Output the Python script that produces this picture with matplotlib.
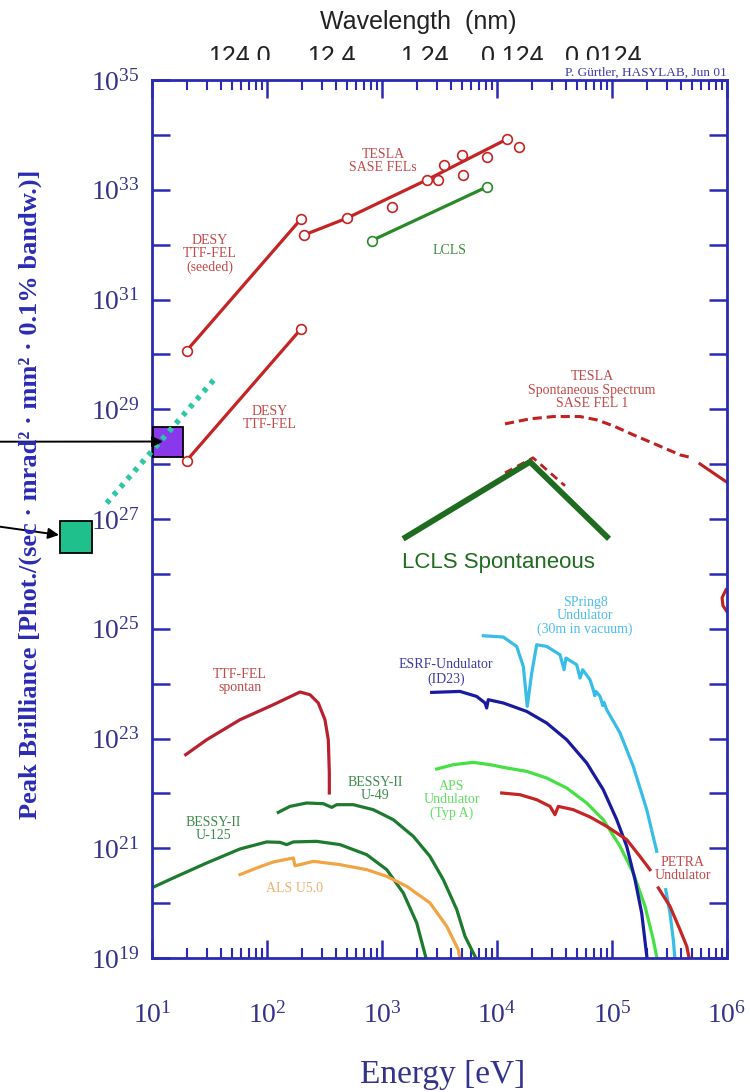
import numpy as np
import matplotlib
matplotlib.use('Agg')
import matplotlib.pyplot as plt
from matplotlib.ticker import FixedLocator, LogLocator, NullLocator, NullFormatter, FixedFormatter
from matplotlib.transforms import Bbox, TransformedBbox

plt.rcParams['font.family'] = ['Liberation Serif', 'DejaVu Serif']
plt.rcParams['mathtext.fontset'] = 'custom'
plt.rcParams['mathtext.rm'] = 'Liberation Serif'

# ---------------- data (log10 of energy [eV] and peak brilliance) ----------------
desy_seeded_logE = [1.302, 2.296]
desy_seeded_logB = [30.069, 32.468]
desy_logE = [1.302, 2.296]
desy_logB = [28.066, 30.464]
tesla_line_logE = [2.324, 2.693, 3.389, 4.084]
tesla_line_logB = [32.177, 32.481, 33.179, 33.920]
tesla_pts_logE = [2.324, 2.693, 3.090, 3.389, 3.490, 3.542, 3.693, 3.707, 3.916, 4.084, 4.191]
tesla_pts_logB = [32.177, 32.481, 32.692, 33.179, 33.179, 33.452, 33.634, 33.270, 33.603, 33.920, 33.774]
lcls_logE = [2.910, 3.916]
lcls_logB = [32.073, 33.056]

tesla_spont_logE = [4.070, 4.287, 4.490, 4.722, 4.867, 5.011, 5.185, 5.389, 5.591, 5.707]
tesla_spont_logB = [28.734, 28.825, 28.867, 28.867, 28.807, 28.698, 28.534, 28.352, 28.169, 28.109]
tesla_spont_tail_logE = [5.765, 5.968, 6.05]
tesla_spont_tail_logB = [28.005, 27.714, 27.60]
spont2_logE = [4.070, 4.313, 4.591]
spont2_logB = [27.842, 28.115, 27.605]
edge_arc_logE = [5.991, 5.957, 5.965, 6.0]
edge_arc_logB = [25.71, 25.565, 25.419, 25.31]

lcls_spont_logE = [3.183, 4.287, 4.974]
lcls_spont_logB = [26.639, 28.042, 26.639]

ttf_spont_logE = [1.293, 1.476, 1.765, 2.055, 2.287, 2.374, 2.446, 2.504, 2.533, 2.542, 2.542]
ttf_spont_logB = [22.705, 22.978, 23.342, 23.616, 23.847, 23.798, 23.647, 23.342, 22.978, 22.377, 22.007]

u125_logE = [0.997, 1.185, 1.476, 1.765, 1.997, 2.113, 2.171, 2.229, 2.432, 2.635, 2.867, 3.041, 3.185, 3.302, 3.395]
u125_logB = [20.277, 20.459, 20.732, 20.987, 21.115, 21.108, 21.066, 21.115, 21.126, 21.066, 20.883, 20.610, 20.186, 19.639, 18.9]

u49_logE = [2.098, 2.200, 2.345, 2.490, 2.563, 2.606, 2.750, 2.924, 3.098, 3.272, 3.417, 3.533, 3.650, 3.722, 3.840]
u49_logB = [21.654, 21.763, 21.825, 21.812, 21.745, 21.794, 21.794, 21.703, 21.521, 21.217, 20.852, 20.428, 19.882, 19.395, 18.9]

als_logE = [1.765, 1.910, 2.055, 2.229, 2.243, 2.287, 2.403, 2.635, 2.867, 3.041, 3.215, 3.417, 3.563, 3.663, 3.685]
als_logB = [20.519, 20.641, 20.750, 20.823, 20.683, 20.701, 20.762, 20.701, 20.610, 20.488, 20.306, 20.004, 19.577, 19.153, 18.9]

esrf_logE = [3.432, 3.678, 3.823, 3.896, 3.910, 3.924, 4.055, 4.258, 4.432, 4.606, 4.780, 4.924, 5.041, 5.128, 5.200, 5.258, 5.310]
esrf_logB = [23.840, 23.858, 23.767, 23.647, 23.556, 23.707, 23.647, 23.494, 23.282, 22.978, 22.554, 22.067, 21.521, 21.035, 20.428, 19.821, 18.9]

spring8_logE = [3.881, 4.055, 4.171, 4.229, 4.263, 4.302, 4.345, 4.432, 4.548, 4.583, 4.600, 4.693, 4.722,
                4.745, 4.809, 4.837, 4.850, 4.860, 4.896, 4.920, 4.930, 4.954, 5.070, 5.185, 5.302, 5.389]
spring8_logB = [24.872, 24.849, 24.678, 24.313, 23.585, 24.193, 24.709, 24.678, 24.526, 24.253, 24.466, 24.344, 24.102,
                24.253, 24.071, 23.889, 23.780, 23.860, 23.767, 23.600, 23.660, 23.525, 23.100, 22.492, 21.703, 20.944]
spring8_low_logE = [5.467, 5.504, 5.533, 5.550]
spring8_low_logB = [20.246, 19.821, 19.335, 18.9]

aps_logE = [3.476, 3.620, 3.794, 3.939, 4.084, 4.258, 4.432, 4.606, 4.780, 4.924, 5.070, 5.185, 5.287, 5.359, 5.400]
aps_logB = [22.444, 22.523, 22.565, 22.523, 22.463, 22.401, 22.280, 22.098, 21.825, 21.521, 21.035, 20.550, 19.942, 19.335, 18.9]

petra_logE = [4.041, 4.200, 4.345, 4.461, 4.504, 4.533, 4.663, 4.809, 4.954, 5.128, 5.243, 5.330]
petra_logB = [22.007, 21.976, 21.885, 21.763, 21.612, 21.763, 21.703, 21.570, 21.399, 21.157, 20.852, 20.610]
petra_low_logE = [5.403, 5.504, 5.591, 5.650, 5.680]
petra_low_logB = [20.277, 19.942, 19.517, 19.213, 18.9]

# annotation squares and dotted trend (log10 values)
purple_sq_logE, purple_sq_logB = 1.142, 28.412
green_sq_logE, green_sq_logB = 0.335, 26.667
teal_logE = [0.606, 1.563]
teal_logB = [27.290, 29.596]

x_tick_exps = [1, 2, 3, 4, 5, 6]
y_tick_exps = list(range(19, 36))
wavelength_labels = ['124.0', '12.4', '1.24', '0.124', '0.0124']

# ---------------- figure ----------------
W, H = 750, 1092
fig = plt.figure(figsize=(W / 100, H / 100), dpi=100)
ax = fig.add_axes([152 / W, 1 - 958 / H, 575 / W, 878 / H])
ax.set_xscale('log')
ax.set_yscale('log')
ax.set_xlim(1e1, 1e6)
ax.set_ylim(1e19, 1e35)


def px(x, y):
    return x / W, 1 - y / H


def d(le, lb):
    return 10 ** np.asarray(le, dtype=float), 10 ** np.asarray(lb, dtype=float)


SPINE = '#2a2ab4'
LBL = '#33338c'
FEL_RED = '#c42424'
LW = 2.3

# FEL lines
mk = dict(marker='o', mfc='white', ms=7, mew=1.2)
ax.plot(*d(desy_seeded_logE, desy_seeded_logB), color=FEL_RED, lw=LW, mec=FEL_RED, **mk)
ax.plot(*d(desy_logE, desy_logB), color=FEL_RED, lw=LW, mec=FEL_RED, **mk)
ax.plot(*d(tesla_line_logE, tesla_line_logB), color=FEL_RED, lw=LW)
ax.plot(*d(tesla_pts_logE, tesla_pts_logB), ls='none', mec=FEL_RED, **mk)
ax.plot(*d(lcls_logE, lcls_logB), color='#2a8a2a', lw=LW, mec='#2a8a2a', **mk)

# spontaneous spectra
ax.plot(*d(spont2_logE, spont2_logB), color='#c02020', lw=2.0, ls=(0, (3, 2)))
ax.plot(*d(tesla_spont_logE, tesla_spont_logB), color='#c02020', lw=2.2, ls=(0, (3, 1.6)))
ax.plot(*d(tesla_spont_tail_logE, tesla_spont_tail_logB), color='#c02020', lw=2.2)
ax.plot(*d(edge_arc_logE, edge_arc_logB), color='#c02020', lw=2.2)
ax.plot(*d(lcls_spont_logE, lcls_spont_logB), color='#1f6b1f', lw=4.2, solid_capstyle='butt')

# undulator / storage ring curves
ax.plot(*d(ttf_spont_logE, ttf_spont_logB), color='#b82030', lw=LW)
ax.plot(*d(u125_logE, u125_logB), color='#1e7a2e', lw=LW)
ax.plot(*d(u49_logE, u49_logB), color='#1e7a2e', lw=LW)
ax.plot(*d(als_logE, als_logB), color='#f2a444', lw=LW)
ax.plot(*d(spring8_logE, spring8_logB), color='#38bde8', lw=LW)
ax.plot(*d(spring8_low_logE, spring8_low_logB), color='#38bde8', lw=LW)
ax.plot(*d(aps_logE, aps_logB), color='#44e044', lw=LW)
ax.plot(*d(esrf_logE, esrf_logB), color='#1a1aa0', lw=LW)
ax.plot(*d(petra_logE, petra_logB), color='#c42626', lw=LW)
ax.plot(*d(petra_low_logE, petra_low_logB), color='#c42626', lw=LW)

# squares, dotted trend, arrows
ax.plot(10 ** purple_sq_logE, 10 ** purple_sq_logB, marker='s', ms=21.5, mfc='#8a38ec', mec='black',
        mew=1.3, clip_on=False, zorder=5)
ax.plot(10 ** green_sq_logE, 10 ** green_sq_logB, marker='s', ms=22.5, mfc='#1fc08c', mec='black',
        mew=1.3, clip_on=False, zorder=5)
ax.plot(*d(teal_logE, teal_logB), color='#2cc6a8', lw=4, ls=(0, (0.8, 1.1)), clip_on=False, zorder=6)
ax.annotate('', xy=(10 ** purple_sq_logE, 10 ** purple_sq_logB), xycoords='data',
            xytext=(0, H - 441.7), textcoords='figure pixels', annotation_clip=False,
            arrowprops=dict(arrowstyle='-|>', color='black', lw=1.4, mutation_scale=16,
                            shrinkA=0, shrinkB=3.8), zorder=7)
ax.annotate('', xy=(10 ** green_sq_logE, 10 ** green_sq_logB), xycoords='data',
            xytext=(0, H - 526.7), textcoords='figure pixels', annotation_clip=False,
            arrowprops=dict(arrowstyle='-|>', color='black', lw=1.4, mutation_scale=16,
                            shrinkA=0, shrinkB=12), zorder=7)

# ---------------- axes styling ----------------
for s in ax.spines.values():
    s.set_color(SPINE)
    s.set_linewidth(2)
ax.xaxis.set_major_locator(FixedLocator([10.0 ** e for e in x_tick_exps]))
ax.xaxis.set_minor_locator(LogLocator(base=10, subs=np.arange(2, 10), numticks=20))
ax.xaxis.set_minor_formatter(NullFormatter())
ax.xaxis.set_major_formatter(FixedFormatter([r'$\mathregular{10^{%d}}$' % e for e in x_tick_exps]))
ax.yaxis.set_major_locator(FixedLocator([10.0 ** e for e in y_tick_exps]))
ax.yaxis.set_minor_locator(NullLocator())
ax.yaxis.set_major_formatter(FixedFormatter(
    [r'$\mathregular{10^{%d}}$' % e if e % 2 == 1 else '' for e in y_tick_exps]))
ax.tick_params(which='both', direction='in', top=True, right=True, color=SPINE,
               labelcolor=LBL, labelsize=20)
ax.tick_params(which='major', length=13, width=1.8)
ax.tick_params(which='minor', length=7, width=1.5)
ax.tick_params(axis='x', pad=32)
ax.tick_params(axis='y', pad=9)

# ---------------- texts ----------------
fig.text(*px(443, 1075), 'Energy [eV]', fontsize=24, color=LBL, ha='center', va='center')
fig.text(*px(30, 494), 'Peak Brilliance [Phot./(sec · mrad² · mm² · 0.1% bandw.)]', rotation=90,
         fontsize=19, fontweight='bold', color='#2b2bb4', ha='center', va='center')
fig.text(*px(727, 73), 'P. Gürtler, HASYLAB, Jun 01', fontsize=9.5, color='#3a3aa8', ha='right', va='center')
fig.text(*px(418, 22), 'Wavelength  (nm)', family='Liberation Sans', fontsize=18, color='#222222',
         ha='center', va='center')
clip = TransformedBbox(Bbox([[0, 1 - 60 / H], [1, 1]]), fig.transFigure)
for lab, x in zip(wavelength_labels, [239, 331, 424, 512, 603]):
    t = fig.text(*px(x, 45), lab, family='Liberation Sans', fontsize=18, color='#222222',
                 ha='center', va='top')
    t.set_clip_box(clip)
    t.set_clip_on(True)

labels = [
    ('TESLA\nSASE FELs', 383, 161, '#c44848'),
    ('DESY\nTTF-FEL\n(seeded)', 210, 254, '#c44848'),
    ('LCLS', 450, 250, '#3a8a3a'),
    ('DESY\nTTF-FEL', 270, 418, '#c44848'),
    ('TESLA\nSpontaneous Spectrum\nSASE FEL 1', 592, 390, '#c44848'),
    ('SPring8\nUndulator\n(30m in vacuum)', 585, 616, '#4cbcf0'),
    ('ESRF-Undulator\n(ID23)', 446, 672, '#3a3aa6'),
    ('TTF-FEL\nspontan', 240, 681, '#c44848'),
    ('APS\nUndulator\n(Typ A)', 452, 800, '#60e060'),
    ('BESSY-II\nU-49', 375, 789, '#3a8a4a'),
    ('BESSY-II\nU-125', 213, 829, '#3a8a4a'),
    ('ALS U5.0', 295, 888, '#f0b070'),
    ('PETRA\nUndulator', 683, 869, '#c44848'),
]
for txt, x, y, c in labels:
    fig.text(*px(x, y), txt, fontsize=10, color=c, ha='center', va='center', linespacing=1.05)
fig.text(*px(498, 563), 'LCLS Spontaneous', family='Liberation Sans', fontsize=16, color='#1f6b1f',
         ha='center', va='center')

fig.savefig('out.png', dpi=100)
